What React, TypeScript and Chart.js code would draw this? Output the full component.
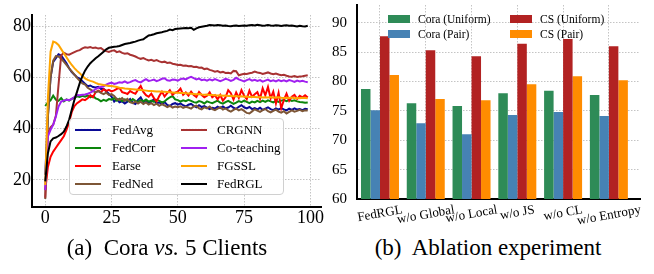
import React, { useEffect, useRef } from 'react';
import { Chart, registerables } from 'chart.js';

Chart.register(...registerables);

const FONT = '"Liberation Serif", "Times New Roman", Times, serif';

// ---------- (a) Cora vs. 5 Clients ----------
const epochs = Array.from({ length: 100 }, (_, i) => i);

const fedAvg = [22, 45, 60, 66, 67.5, 69, 68.5, 67, 65.5, 63.5, 62, 61, 60, 59.5, 58.5, 57.5, 56.5, 56.8, 56.2, 56, 56.3, 55.4, 55.5, 54.6, 53.5, 52.5, 50.5, 51.5, 50.2, 50.6, 49.8, 50.5, 51.5, 50, 49.6, 51.2, 52.2, 50.3, 51, 49.8, 50.5, 51.5, 49.8, 50.2, 49.5, 50.3, 49.2, 48.8, 49.6, 49.9, 49.3, 49.8, 49.1, 48.6, 49.3, 49.6, 48.9, 48.3, 49.1, 48.4, 48.8, 48.2, 47.6, 48.1, 47.8, 48.5, 48, 48.6, 47.9, 48.2, 48.9, 48.1, 47.7, 48.5, 49.1, 48.3, 47.9, 48.4, 47.6, 48, 47.5, 48.1, 47.3, 47.8, 48.3, 47.6, 47.2, 47.9, 47.4, 48, 47.5, 47.1, 47.8, 47.3, 47.9, 47.4, 47.6, 47.2, 47.7, 47.5];
const fedCorr = [48.8, 50.2, 51, 52.8, 51.3, 50.8, 51.9, 50.6, 51.4, 50.9, 51.6, 52.1, 52.6, 52.3, 52.8, 52.4, 52.9, 52.2, 52.7, 51.8, 51.4, 50.6, 51.2, 50.8, 51.5, 51.3, 51.9, 50.9, 51.6, 50.7, 51.4, 51, 50.4, 51.5, 50.8, 50.3, 51.1, 50.6, 51.3, 50.5, 50.9, 50.4, 51.2, 50.8, 50.2, 50.6, 51.5, 52.2, 52.7, 51.4, 51.1, 50.5, 51, 50.7, 51.2, 50.8, 50.3, 50.1, 50.7, 50.4, 49.8, 50.6, 50.2, 49.9, 50.4, 50.9, 50.1, 49.7, 50.3, 50.8, 50.2, 49.6, 50.1, 50.7, 50.3, 50.9, 50.4, 49.9, 50.5, 50.2, 50.8, 50.3, 50.9, 50.4, 51, 50.6, 50.2, 50.8, 50.4, 50.9, 51.1, 50.7, 51.2, 50.8, 51, 50.6, 50.4, 50.3, 50.1, 50.2];
const earse = [16, 25, 29, 31, 32.5, 34, 35.5, 37, 39.5, 42.5, 46.5, 48.8, 49.9, 50.6, 51.4, 51.1, 51.8, 53, 52.2, 54.2, 54.8, 54.2, 55.3, 54.7, 55.1, 54.5, 54.9, 55.5, 55.8, 54.2, 53.9, 53.5, 54.6, 54, 53.6, 55.2, 56.6, 54.3, 53, 52.4, 53.6, 51.9, 50.6, 52.7, 54.4, 52.5, 53.8, 55, 53.2, 54, 54.4, 55.6, 53.2, 54.1, 52.9, 54.4, 53.1, 52.3, 54.3, 53.1, 52.2, 52.8, 54.1, 52.2, 53, 51.4, 53.1, 50.9, 52.2, 55, 53.8, 51.3, 54.1, 52, 55, 52.8, 51.5, 54.8, 52.4, 53.4, 54.2, 51.6, 55.7, 53, 56.2, 51.8, 54.4, 49.8, 53.9, 47.9, 51.2, 53.6, 50.8, 52.4, 53.1, 51.6, 52.8, 52.2, 53, 52.1];
const fedNed = [12.5, 44.5, 60, 66.5, 68.3, 68.1, 67.2, 66.1, 64.8, 63.5, 62.3, 61, 59.8, 58.6, 57.6, 57.2, 55.9, 55.3, 54.6, 54.1, 54.6, 53.9, 53.4, 54, 53.1, 53.4, 52.7, 51.5, 51.2, 51.9, 50.8, 51.6, 50.3, 49.9, 50.6, 49.8, 50.5, 49.6, 50.2, 49.4, 49.9, 49.2, 49.7, 48.9, 49.5, 49, 48.4, 48.9, 48.2, 48.6, 48.3, 48.7, 48.1, 48.5, 48.2, 47.8, 48.6, 48.9, 47.9, 47.5, 48.3, 47.9, 48.6, 47.6, 47.2, 47.8, 48.3, 47.4, 47.9, 47.1, 46.6, 47.3, 47.8, 47.1, 47.6, 46.9, 46.1, 45.9, 46.7, 47.5, 47, 46.5, 47.2, 47.6, 46.8, 46.3, 46.9, 47.4, 46.6, 46.2, 46.8, 45.9, 46.5, 47.1, 46.6, 46.9, 47.3, 46.8, 47.1, 47];
const crgnn = [13, 38, 40.5, 41.5, 45, 57, 68.5, 69.6, 69, 68.8, 69.3, 69.8, 70.3, 70.6, 71.3, 71.7, 71.5, 71.8, 71.4, 71.6, 71.2, 71.4, 70.6, 70.2, 69.9, 70.3, 70.5, 69.8, 70.1, 69.5, 69.2, 69.4, 68.8, 68.5, 68.1, 67.6, 67.2, 67.5, 67, 66.6, 66.8, 66.4, 66.7, 66.2, 65.9, 66.1, 65.6, 65.8, 65.3, 65.1, 64.8, 64.9, 64.5, 64.6, 64.3, 64.4, 64, 64.1, 63.7, 63.8, 63.2, 63.4, 62.9, 62.6, 62.2, 62.4, 61.9, 62.1, 61.7, 61.8, 61.5, 62.5, 62.4, 60.8, 61.1, 61.4, 61.3, 61.6, 61.8, 62.2, 61.9, 61.7, 61.3, 61.6, 61.9, 61.5, 61.2, 61.5, 61.1, 60.8, 61, 60.6, 60.3, 60.2, 60.5, 60.1, 60.3, 60.4, 60.6, 60.8];
const coTeaching = [16, 37, 39.5, 41.5, 44.7, 48.6, 50.5, 50.9, 51.2, 51.1, 51.6, 52.3, 53.1, 53, 53.2, 53.3, 53.6, 54, 54.6, 55.4, 55.9, 56.2, 56.5, 57.1, 57.6, 57.9, 57.4, 57.7, 58.1, 57.9, 58.4, 57.8, 58.1, 58.6, 58.9, 58.3, 58, 58.7, 59.3, 58.6, 58.8, 59.1, 58.5, 58.9, 59.4, 59.6, 58.8, 58.7, 59.1, 59, 58.7, 59.3, 59.5, 59.2, 59.8, 60.2, 59.7, 59.2, 59.5, 58.9, 59.1, 58.7, 59.2, 58.8, 59.3, 58.9, 58.5, 58.9, 59.4, 59.1, 58.6, 59, 59.8, 59.2, 58.8, 58.4, 58.9, 59.3, 58.7, 59, 58.6, 58.9, 58.3, 58.7, 59.1, 58.5, 58.8, 58.4, 58.9, 58.5, 58.8, 58.4, 58.9, 58.6, 58.2, 58.7, 58.4, 58.6, 58.3, 58.1];
const fgssl = [18, 52, 70, 73.9, 73.5, 72.6, 71, 69.4, 67.8, 66.2, 64.8, 63.6, 62.5, 61.6, 60.5, 59.6, 59, 58.6, 58.3, 57.8, 57.4, 57.2, 57, 56.8, 56.6, 56.6, 56.4, 56.2, 55.9, 55.8, 55.6, 55.5, 55.4, 55.3, 55.2, 55.1, 55, 54.9, 54.8, 54.7, 54.7, 54.6, 54.5, 54.5, 54.4, 54.4, 54.3, 54.2, 54.1, 54, 54, 53.9, 53.9, 53.8, 53.7, 53.6, 53.5, 53.4, 53.5, 53.3, 53.2, 53.3, 53.1, 53.1, 53, 52.9, 53, 52.8, 52.9, 52.7, 52.8, 52.6, 52.7, 52.5, 52.6, 52.4, 52.5, 52.3, 52.4, 52.3, 52.2, 52.3, 52.1, 52.2, 52.1, 52.3, 52, 52.1, 52.2, 52, 51.9, 52, 51.9, 52.1, 51.8, 51.9, 51.8, 52, 51.9, 51.8];
const fedRGL = [19.4, 30.4, 35, 36.2, 36.5, 37.1, 37.8, 38.8, 40.8, 43.4, 47.3, 51.2, 54.4, 57.7, 60.4, 62.6, 64.2, 65.5, 66.5, 67.4, 68.2, 69.1, 70, 70.9, 71.5, 71.7, 71.9, 72, 72.2, 72.6, 73, 73.2, 73.4, 73.7, 73.9, 74.3, 74.6, 74.8, 75.6, 76.3, 76.5, 76.8, 77.2, 77.4, 77.6, 77.9, 78.1, 78.6, 78.4, 78.8, 78.9, 79, 79.1, 79.2, 79.1, 79.3, 78.5, 79.1, 79.5, 79.7, 79.9, 80.1, 80.4, 80.3, 80.2, 80.4, 80.3, 80.1, 80.2, 80, 79.9, 80.1, 80.2, 80, 80.1, 80.2, 80.1, 80.3, 80.4, 80.2, 80.5, 80.3, 80.1, 80.2, 80.4, 80.2, 80.1, 80.3, 80.2, 80, 80.2, 80.3, 80.1, 80.2, 80, 79.8, 80.1, 79.9, 79.8, 80.1];

const seriesNames = ['FedAvg', 'FedCorr', 'Earse', 'FedNed', 'CRGNN', 'Co-teaching', 'FGSSL', 'FedRGL'];
const seriesValues = [fedAvg, fedCorr, earse, fedNed, crgnn, coTeaching, fgssl, fedRGL];
const seriesColors = ['#0a0a96', '#0c850c', '#ff0000', '#7d5636', '#a83232', '#a020f0', '#ffa500', '#000000'];
const xTicksA = [0, 25, 50, 75, 100];
const yTicksA = [20, 40, 60, 80];

// ---------- (b) Ablation experiment ----------
const ablationLabels = ['FedRGL', 'w/o Global', 'w/o Local', 'w/o JS', 'w/o CL', 'w/o Entropy'];
const coraUniform = [78.7, 76.3, 75.8, 78.0, 78.4, 77.7];
const coraPair = [75.1, 72.9, 71.0, 74.3, 74.8, 74.1];
const csUniform = [87.7, 85.3, 84.3, 86.4, 87.2, 86.0];
const csPair = [81.1, 77.0, 76.8, 79.5, 80.9, 80.2];
const barNames = ['Cora (Uniform)', 'Cora (Pair)', 'CS (Uniform)', 'CS (Pair)'];
const barValues = [coraUniform, coraPair, csUniform, csPair];
const barColors = ['#2e8b57', '#4682b4', '#b22222', '#ff8c00'];
const yTicksB = [60, 65, 70, 75, 80, 85, 90];

const GRID_COLOR = '#c4c4c4';

const rotatedLabels = {
  id: 'rotatedLabels',
  afterDraw(chart: any) {
    const xs = chart.scales.x;
    const ctx = chart.ctx as CanvasRenderingContext2D;
    const size = 13;
    const th = (10 * Math.PI) / 180;
    ctx.save();
    ctx.font = `${size}px ${FONT}`;
    ctx.fillStyle = '#000';
    ctx.textAlign = 'center';
    ctx.textBaseline = 'middle';
    ablationLabels.forEach((lab, i) => {
      const x = xs.getPixelForValue(i);
      const w = ctx.measureText(lab).width;
      const h = size * 1.15;
      const cy = xs.top + 3.5 + (w * Math.sin(th) + h * Math.cos(th)) / 2;
      ctx.save();
      ctx.translate(x, cy);
      ctx.rotate(-th);
      ctx.fillText(lab, 0, 0);
      ctx.restore();
    });
    ctx.restore();
  },
};

export default function App() {
  const refA = useRef<HTMLCanvasElement>(null);
  const refB = useRef<HTMLCanvasElement>(null);

  useEffect(() => {
    const border = { display: true, color: '#000', width: 2, dash: [1.5, 1.5] };
    const grid = { color: GRID_COLOR, lineWidth: 1, drawTicks: false, borderDash: [1.5, 1.5] };

    const chartA = new Chart(refA.current as HTMLCanvasElement, {
      type: 'line',
      data: {
        datasets: seriesValues.map((vals, i) => ({
          label: seriesNames[i],
          data: vals.map((v, j) => ({ x: epochs[j], y: v })),
          borderColor: seriesColors[i],
          backgroundColor: seriesColors[i],
          borderWidth: 2,
          pointRadius: 0,
          tension: 0,
          fill: false,
          order: seriesValues.length - 1 - i,
        })),
      },
      options: {
        responsive: false,
        animation: false,
        layout: { padding: { top: 15, right: 6, left: 0, bottom: 0 } },
        plugins: { legend: { display: false }, tooltip: { enabled: false } },
        scales: {
          x: {
            type: 'linear',
            min: -5,
            max: 104,
            grid,
            border,
            afterBuildTicks: (s: any) => {
              s.ticks = xTicksA.map((v) => ({ value: v }));
            },
            afterFit: (s: any) => {
              s.height = 23;
              s.paddingLeft = 0;
              s.paddingRight = 0;
            },
            ticks: { font: { family: FONT, size: 18 }, color: '#000', padding: 0, maxRotation: 0 },
          },
          y: {
            type: 'linear',
            min: 9.4,
            max: 84.3,
            grid,
            border,
            afterBuildTicks: (s: any) => {
              s.ticks = yTicksA.map((v) => ({ value: v }));
            },
            afterFit: (s: any) => {
              s.width = 32;
              s.paddingTop = 0;
              s.paddingBottom = 0;
            },
            ticks: { font: { family: FONT, size: 18 }, color: '#000', padding: 1 },
          },
        },
      } as any,
    });

    const chartB = new Chart(refB.current as HTMLCanvasElement, {
      type: 'bar',
      data: {
        datasets: barValues.map((vals, i) => ({
          label: barNames[i],
          data: vals.map((v, j) => ({ x: j, y: v })),
          backgroundColor: barColors[i],
          borderWidth: 0,
          categoryPercentage: 0.83,
          barPercentage: 1.0,
        })),
      },
      options: {
        responsive: false,
        animation: false,
        layout: { padding: { top: 5, right: 14, left: 0, bottom: 0 } },
        plugins: { legend: { display: false }, tooltip: { enabled: false } },
        scales: {
          x: {
            type: 'linear',
            min: -0.502,
            max: 5.68,
            offset: false,
            grid: { ...grid, offset: false },
            border,
            afterBuildTicks: (s: any) => {
              s.ticks = ablationLabels.map((_, i) => ({ value: i }));
            },
            afterFit: (s: any) => {
              s.height = 31;
              s.paddingLeft = 0;
              s.paddingRight = 0;
            },
            ticks: { display: false },
          },
          y: {
            type: 'linear',
            min: 60,
            max: 93,
            grid,
            border,
            afterBuildTicks: (s: any) => {
              s.ticks = yTicksB.map((v) => ({ value: v }));
            },
            afterFit: (s: any) => {
              s.width = 30;
              s.paddingTop = 0;
              s.paddingBottom = 0;
            },
            ticks: { font: { family: FONT, size: 15 }, color: '#000', padding: 10 },
          },
        },
      } as any,
      plugins: [rotatedLabels],
    });

    return () => {
      chartA.destroy();
      chartB.destroy();
    };
  }, []);

  const legendA = seriesNames.map((name, i) => {
    const col = Math.floor(i / 4);
    const row = i % 4;
    return (
      <div key={name}>
        <div
          style={{
            position: 'absolute',
            left: 5 + col * 106,
            top: 11 + row * 18 - 1.25,
            width: 26,
            height: 2.5,
            background: seriesColors[i],
          }}
        />
        <div
          style={{
            position: 'absolute',
            left: 42 + col * 105,
            top: 11 + row * 18 - 9,
            height: 18,
            lineHeight: '18px',
            fontSize: 13,
            whiteSpace: 'nowrap',
          }}
        >
          {name}
        </div>
      </div>
    );
  });

  const legendB = barNames.map((name, i) => {
    const col = Math.floor(i / 2);
    const row = i % 2;
    return (
      <div key={name}>
        <div
          style={{
            position: 'absolute',
            left: 388 + col * 122,
            top: 15 + row * 15,
            width: 22,
            height: 8,
            background: barColors[i],
          }}
        />
        <div
          style={{
            position: 'absolute',
            left: 418 + col * 122,
            top: 19 + row * 15 - 8,
            height: 16,
            lineHeight: '16px',
            fontSize: 11.5,
            whiteSpace: 'nowrap',
          }}
        >
          {name}
        </div>
      </div>
    );
  });

  return (
    <div
      style={{
        position: 'absolute',
        left: 0,
        top: 0,
        width: 654,
        height: 274,
        background: '#fff',
        fontFamily: FONT,
        color: '#000',
        overflow: 'hidden',
      }}
    >
      <canvas ref={refA} width={327} height={230} style={{ position: 'absolute', left: 0, top: 0, width: 327, height: 230 }} />
      <canvas ref={refB} width={327} height={230} style={{ position: 'absolute', left: 327, top: 0, width: 327, height: 230 }} />
      <div
        style={{
          position: 'absolute',
          left: 69,
          top: 118,
          width: 215,
          height: 77,
          boxSizing: 'border-box',
          border: '1px solid #d0d0d0',
          borderRadius: 4,
          background: 'rgba(255,255,255,0.85)',
        }}
      >
        {legendA}
      </div>
      {legendB}
      <div
        style={{
          position: 'absolute',
          left: 167,
          top: 235,
          transform: 'translateX(-50%)',
          fontSize: 23,
          lineHeight: '26px',
          whiteSpace: 'pre',
        }}
      >
        {'(a)  Cora '}
        <i>vs.</i>
        {' 5 Clients'}
      </div>
      <div
        style={{
          position: 'absolute',
          left: 488,
          top: 235,
          transform: 'translateX(-50%)',
          fontSize: 23,
          lineHeight: '26px',
          whiteSpace: 'pre',
        }}
      >
        {'(b)  Ablation experiment'}
      </div>
    </div>
  );
}
